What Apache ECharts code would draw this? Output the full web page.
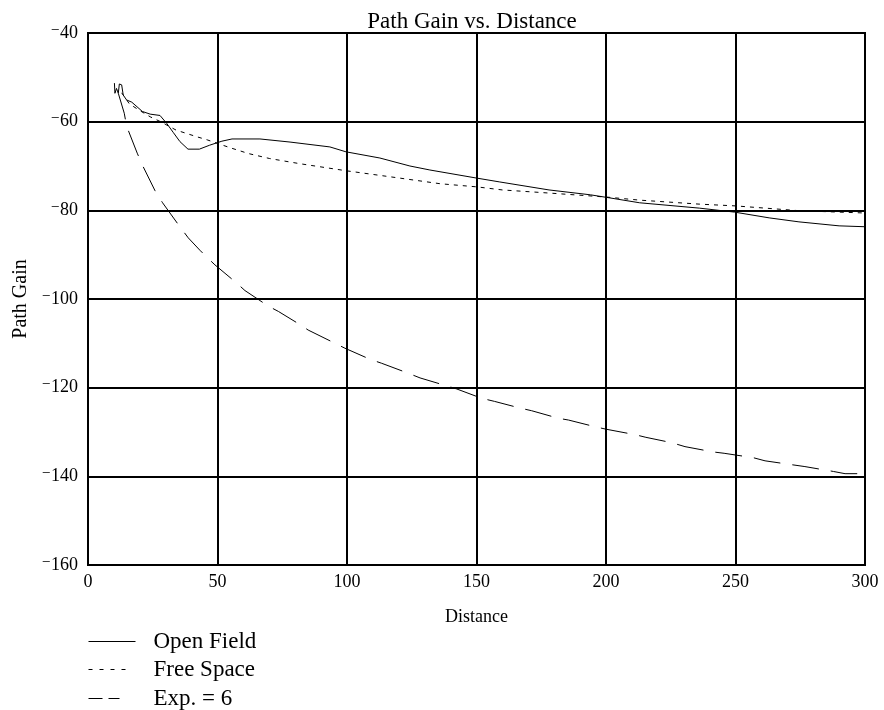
<!DOCTYPE html>
<html>
<head>
<meta charset="utf-8">
<script src="https://cdn.jsdelivr.net/npm/echarts@6/dist/echarts.min.js"></script>
<style>
  html, body { margin: 0; padding: 0; background: #fff; }
  #main { width: 884px; height: 710px; }
</style>
</head>
<body>
<div id="main"></div>
<script>
// [distance, path gain] pairs
var openField = [
  [10.2, -51.3], [10.4, -53.6], [11, -52.5], [11.7, -53.6], [12.1, -51.5], [13, -51.7],
  [13.6, -54], [14.9, -55.1], [16.9, -55.6], [21, -57.7], [24, -58.3], [27.8, -58.6],
  [30.4, -60.4], [33, -62.5], [35.5, -64.5], [38.6, -66.2], [43, -66.2], [47, -65.3],
  [51.7, -64.4], [55.6, -63.9], [66.4, -63.9], [78, -64.6], [93.4, -65.7], [99.6, -66.8],
  [112.7, -68.2], [124.3, -70], [132, -70.9], [149.8, -72.7], [159, -73.6], [178, -75.4],
  [194, -76.5], [201.5, -77.2], [213, -78.3], [236, -79.5], [249.6, -80.4], [263, -81.7],
  [274.5, -82.6], [290, -83.5], [300, -83.7]
];
var freeSpace = [
  [13, -53.5], [16, -56], [20, -57.5], [24, -58.9], [28, -60], [34, -61.9], [42, -63.4],
  [46, -64.1], [55, -65.9], [62, -67.2], [70, -68.3], [82, -69.5], [100, -71.1],
  [120, -72.7], [136, -74], [150, -74.7], [160, -75.4], [178, -76.1], [200, -77],
  [213, -77.7], [236, -78.6], [250, -79], [275, -80.1], [300, -80.6]
];
var expSix = [
  [11.7, -53.6], [14, -58.1], [14.9, -61], [19, -67.1], [21, -69.8], [25.9, -75.6],
  [28.8, -78.3], [35.1, -83.4], [38.7, -86.2], [43.2, -89], [45.6, -90.4], [49, -92.3],
  [57.4, -96.4], [60.6, -98.1], [69.6, -101.6], [73.5, -102.8], [81.9, -105.8], [85, -107],
  [94.7, -109.8], [99.2, -111.1], [108.9, -113.6], [113.4, -114.5], [123, -116.6],
  [128.2, -117.8], [138.5, -119.6], [142.4, -120.3], [152, -122.4], [157, -123.1],
  [166.8, -124.6], [171.3, -125.2], [181.6, -126.9], [185.5, -127.3], [196.4, -128.9],
  [200.3, -129.4], [211.2, -130.6], [215.4, -131.2], [225.3, -132.4], [230.5, -133.3],
  [241.4, -134.5], [245.6, -134.8], [256.9, -135.8], [261.4, -136.5], [272, -137.4],
  [276.8, -137.8], [287.8, -138.9], [292.3, -139.4], [297, -139.4]
];
var seriesNames = ["Open Field", "Free Space", "Exp. = 6"];

var serif = "'Liberation Serif', 'DejaVu Serif', serif";
var chart = echarts.init(document.getElementById("main"));

function curve(name, data, dash) {
  return {
    name: name,
    type: "line",
    data: data,
    showSymbol: false,
    symbol: "none",
    lineStyle: { color: "#000", width: 1, type: dash }
  };
}

// one legend per row so the rows sit where the reference has them
function legendRow(name, top, width, dash) {
  return {
    data: [name],
    left: 88,
    top: top,
    padding: 0,
    itemWidth: width,
    itemHeight: 14,
    itemGap: 0,
    itemStyle: { opacity: 0 },
    lineStyle: { color: "#000", width: 1, type: dash },
    textStyle: {
      fontFamily: serif, fontSize: 23, color: "#000",
      padding: [0, 0, 0, 153 - 88 - width - 5]
    }
  };
}

chart.setOption({
  animation: false,
  title: {
    text: "Path Gain vs. Distance",
    left: 467,
    textAlign: "center",
    top: 5,
    textStyle: { fontFamily: serif, fontSize: 23, fontWeight: "normal", color: "#000" }
  },
  grid: {
    left: 88, right: 19, top: 33, bottom: 145,
    show: true, borderColor: "#000", borderWidth: 2
  },
  legend: [
    legendRow(seriesNames[0], 630, 47, "solid"),
    legendRow(seriesNames[1], 658, 39, [4, 7]),
    legendRow(seriesNames[2], 687, 31, [14, 6])
  ],
  xAxis: {
    type: "value",
    min: 0, max: 300, interval: 50,
    name: "Distance",
    nameLocation: "middle",
    nameGap: 43,
    nameTextStyle: { fontFamily: serif, fontSize: 18, color: "#000" },
    axisLine: { show: true, lineStyle: { color: "#000", width: 2 } },
    axisTick: { show: false },
    axisLabel: { fontFamily: serif, fontSize: 18, color: "#000", margin: 8 },
    splitLine: { show: true, lineStyle: { color: "#000", width: 2 } }
  },
  yAxis: {
    type: "value",
    min: -160, max: -40, interval: 20,
    name: "Path Gain",
    nameLocation: "middle",
    nameGap: 44,
    nameTextStyle: { fontFamily: serif, fontSize: 20, color: "#000" },
    axisLine: { show: true, lineStyle: { color: "#000", width: 2 } },
    axisTick: { show: false },
    axisLabel: {
      fontFamily: serif, fontSize: 18, color: "#000", margin: 10,
      formatter: function (v) { return v < 0 ? "\u207B" + Math.abs(v) : String(v); }
    },
    splitLine: { show: true, lineStyle: { color: "#000", width: 2 } }
  },
  series: [
    curve(seriesNames[0], openField, "solid"),
    curve(seriesNames[1], freeSpace, [4, 5]),
    curve(seriesNames[2], expSix, [27, 12])
  ]
});
</script>
</body>
</html>
